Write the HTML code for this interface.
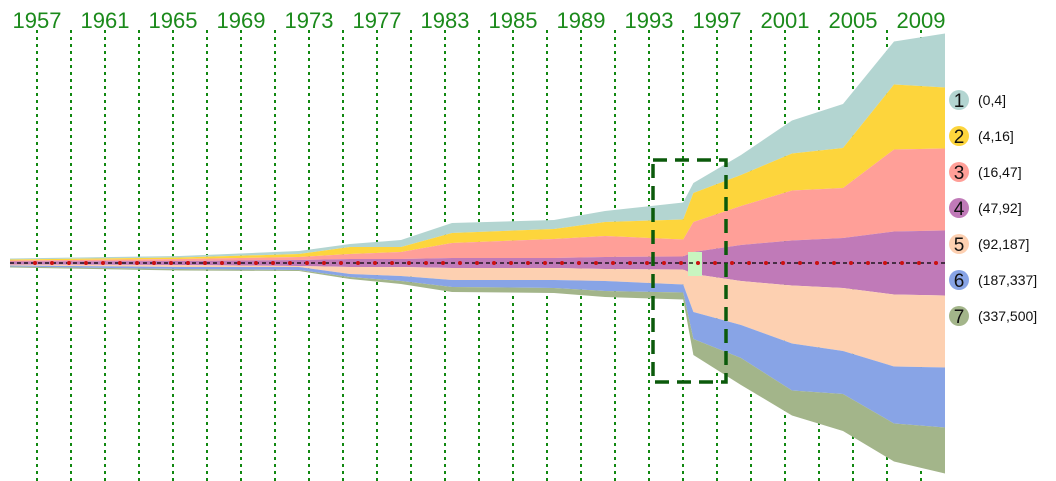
<!DOCTYPE html>
<html><head><meta charset="utf-8"><style>
html,body{margin:0;padding:0;background:#fff;width:1056px;height:481px;overflow:hidden}
svg{display:block}
</style></head><body>
<svg id="chart" width="1056" height="481" xmlns="http://www.w3.org/2000/svg" font-family="Liberation Sans, sans-serif"></svg>
<script>
// ---- data ----
const tickLabels = ["1957","1961","1965","1969","1973","1977","1983","1985","1989","1993","1997","2001","2005","2009"];
const steps = [0,10,17,20,23,26,32,35,39.6,40.2,43,46,49,52,55];
const layer1 = [1,1.5,3,3,7,10,9,11,17,10,20,33,44,43,54];
const layer2 = [1,1.5,3,7,5,10,10,14,20,29,31,37,40,65,61];
const layer3 = [1,2,3,5,7,15,19,21,17,30,39,50,50,82,82];
const layer4 = [3,4,6,8,8,10,10,12,13,22,36,45,50,63,65];
const layer5 = [1,2,1,7,9,12,12,12,15,38,44,58,63,72,72];
const layer6 = [1,2,3,3,5,7,8,10,8,27,33,47,43,57,60];
const layer7 = [1,1.5,1,2,3,5,5,6,7,16,27,25,37,38,46];
const legendLabels = ["(0,4]","(4,16]","(16,47]","(47,92]","(92,187]","(187,337]","(337,500]"];
const layers = [layer1,layer2,layer3,layer4,layer5,layer6,layer7];
const colors = ["#b3d5d1","#fdd53c","#ff9f98","#c07ab8","#fdd0b1","#88a4e6","#a3b58a"];

const NS="http://www.w3.org/2000/svg";
const svg=document.getElementById('chart');
function mk(tag,attrs,parent){const e=document.createElementNS(NS,tag);for(const k in attrs)e.setAttribute(k,attrs[k]);(parent||svg).appendChild(e);return e;}
const xS = s => 10 + s*17;
const CY = 263;
const gridX = k => 37 + k*34;

for(let k=0;k<=26;k++){
  const l=mk('line',{x1:gridX(k),x2:gridX(k),y1:30,y2:481,stroke:'#118811','stroke-width':2,'stroke-dasharray':'3,4'});
  
  
}
tickLabels.forEach((t,i)=>{
  const e=mk('text',{x:gridX(i*2),y:28,'text-anchor':'middle','font-size':22,fill:'#1b8a1b'});
  e.textContent=t;
  
  
});
const tops=[];
steps.forEach((s,i)=>{
  let y = CY - (layer1[i]+layer2[i]+layer3[i]+layer4[i]/2);
  const b=[y];
  layers.forEach(L=>{y+=L[i];b.push(y);});
  tops.push(b);
});
layers.forEach((L,li)=>{
  let d='';
  steps.forEach((s,i)=>{d+=(i?'L':'M')+xS(s)+','+tops[i][li];});
  for(let i=steps.length-1;i>=0;i--){d+='L'+xS(steps[i])+','+tops[i][li+1];}
  const p=mk('path',{d:d+'Z',fill:colors[li]});
  
  
});
const hp=mk('rect',{x:688,y:252,width:14,height:24,fill:'#c8f5c0'});


const cl=mk('line',{x1:10,x2:945,y1:CY,y2:CY,stroke:'#000','stroke-width':1.2,'stroke-dasharray':'4,3'});


for(let k=0;k<54;k++){
  const c=mk('circle',{cx:35+k*17,cy:CY,r:2,fill:'#cc1111'});
  
  
}
const sb=mk('rect',{x:653,y:160,width:73,height:222,fill:'none',stroke:'#0b5a0b','stroke-width':3.5,'stroke-dasharray':'14,8'});


legendLabels.forEach((t,i)=>{
  const y=100+i*36;
  const g=mk('g',{});
  
  
  mk('circle',{cx:959,cy:y,r:10,fill:colors[i]},g);
  const n=mk('text',{x:959,y:y+7,'text-anchor':'middle','font-size':19,fill:'#111'},g);n.textContent=String(i+1);
  const l=mk('text',{x:978,y:y+5,'font-size':14,fill:'#111'},g);l.textContent=t;
});
</script>
</body></html>
